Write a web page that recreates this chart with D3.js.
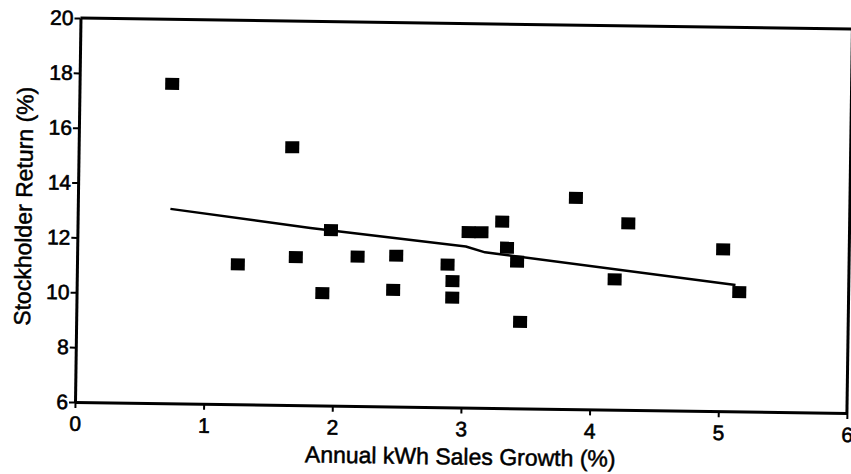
<!DOCTYPE html>
<html>
<head>
<meta charset="utf-8">
<script src="https://cdn.jsdelivr.net/npm/d3@7"></script>
<style>
  body { margin: 0; background: #fff; }
  text { font-family: "Liberation Sans", Arial, sans-serif; fill: #000; }
</style>
</head>
<body>
<div class="canvas"></div>
<script>
// data
const growth = [0.72, 1.66, 1.25, 1.70, 1.91, 1.97, 2.18, 2.46, 2.48, 2.88, 2.92, 2.92,
  3.04, 3.14, 3.30, 3.34, 3.42, 3.45, 3.87, 4.18, 4.28, 5.02, 5.15]
const stockReturn = [17.65, 15.4, 11.1, 11.4, 10.1, 12.4, 11.45, 10.25, 11.5, 11.2, 10.6, 10.0,
  12.4, 12.4, 12.8, 11.85, 11.35, 9.15, 13.7, 10.75, 12.8, 11.9, 10.35]

// fitted trend line
const fitX = [0.72, 1.81, 3.02, 3.17, 5.12]
const fitY = [13.09, 12.47, 11.87, 11.67, 10.61]

const xTicks = [0, 1, 2, 3, 4, 5, 6]
const yTicks = [6, 8, 10, 12, 14, 16, 18, 20]

const width = 851
const height = 474

const svg = d3.select('.canvas')
  .append('svg')
  .attr('width', width)
  .attr('height', height)

// Create margins and dimensions
const margin = { top: 18, right: 4, bottom: 72, left: 75 }
const graphWidth = 772
const graphHeight = height - margin.top - margin.bottom

// the scan is tilted a little, so the whole chart is turned about its origin
const graph = svg.append('g')
  .attr('transform', `rotate(0.82, ${margin.left}, ${margin.top + graphHeight}) translate(${margin.left}, ${margin.top})`)

// scales
const x = d3.scaleLinear()
  .domain([0, 6])
  .range([0, graphWidth])

const y = d3.scaleLinear()
  .domain([6, 20])
  .range([graphHeight, 0])

// axes
const xAxis = d3.axisBottom(x)
  .tickValues(xTicks)
  .tickFormat(d3.format('d'))
  .tickSize(6)
  .tickPadding(8)
  .tickSizeOuter(0)

const yAxis = d3.axisLeft(y)
  .tickValues(yTicks)
  .tickFormat(d3.format('d'))
  .tickSize(6)
  .tickPadding(1)
  .tickSizeOuter(0)

const xAxisGroup = graph.append('g')
  .attr('transform', `translate(0, ${graphHeight})`)
  .call(xAxis)
const yAxisGroup = graph.append('g')
  .call(yAxis)

;[xAxisGroup, yAxisGroup].forEach(g => {
  g.select('.domain').attr('stroke', '#000').attr('stroke-width', 3)
  g.selectAll('.tick line').attr('stroke', '#000').attr('stroke-width', 2)
  g.selectAll('.tick text')
    .attr('font-size', 21)
    .attr('font-family', '"Liberation Sans", Arial, sans-serif')
    .attr('fill', '#000')
    .attr('stroke', '#000')
    .attr('stroke-width', 0.6)
})

// top and right edges of the frame
graph.append('line')
  .attr('x1', 0).attr('x2', graphWidth)
  .attr('y1', 0).attr('y2', 0)
  .attr('stroke', '#000').attr('stroke-width', 3)
graph.append('line')
  .attr('x1', graphWidth).attr('x2', graphWidth)
  .attr('y1', 0).attr('y2', graphHeight)
  .attr('stroke', '#000').attr('stroke-width', 3)

// trend line
const fitData = fitX.map((d, i) => ({ x: d, y: fitY[i] }))
const line = d3.line()
  .x(d => x(d.x))
  .y(d => y(d.y))

graph.append('path')
  .datum(fitData)
  .attr('d', line)
  .attr('fill', 'none')
  .attr('stroke', '#000')
  .attr('stroke-width', 2.5)
  .attr('stroke-linejoin', 'round')

// square markers
const points = growth.map((d, i) => ({ growth: d, ret: stockReturn[i] }))
const markW = 14
const markH = 12

graph.selectAll('rect.mark')
  .data(points)
  .enter()
  .append('rect')
  .attr('class', 'mark')
  .attr('x', d => x(d.growth) - markW / 2)
  .attr('y', d => y(d.ret) - markH / 2)
  .attr('width', markW)
  .attr('height', markH)
  .attr('fill', '#000')

// axis titles
graph.append('text')
  .attr('x', x(3))
  .attr('y', graphHeight + 57)
  .attr('text-anchor', 'middle')
  .attr('font-size', 23)
  .attr('stroke', '#000')
  .attr('stroke-width', 0.5)
  .text('Annual kWh Sales Growth (%)')

graph.append('text')
  .attr('transform', `translate(${29 - margin.left}, ${y(13) - 3}) rotate(-90)`)
  .attr('text-anchor', 'middle')
  .attr('font-size', 23)
  .attr('stroke', '#000')
  .attr('stroke-width', 0.5)
  .text('Stockholder Return (%)')
</script>
</body>
</html>
